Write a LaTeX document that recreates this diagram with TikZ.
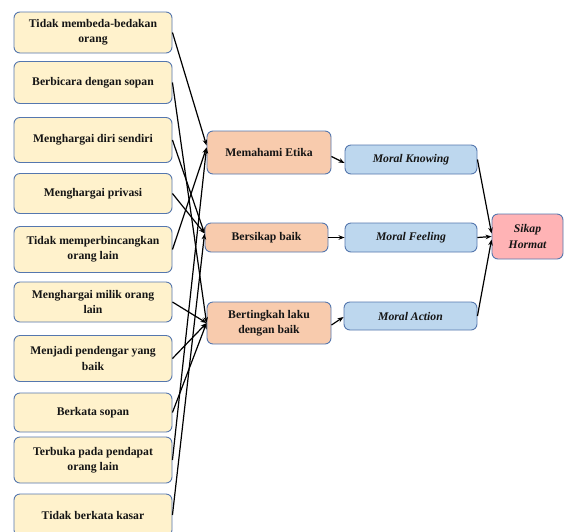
\documentclass[tikz,border=0pt]{standalone}
\usepackage{fontspec}
\setmainfont{Liberation Serif}
\usetikzlibrary{arrows.meta}
\definecolor{lfill}{HTML}{FFF2CC}
\definecolor{mfill}{HTML}{F8CBAD}
\definecolor{bfill}{HTML}{BDD7EE}
\definecolor{rfill}{HTML}{FFB3B5}
\definecolor{edge}{HTML}{5577AE}
\definecolor{ink}{HTML}{151515}
\tikzset{
  base/.style={draw=edge, line width=0.9pt, rounded corners=6pt, inner sep=0pt, align=center,
     text=ink, font=\fontsize{11.7}{15.3}\selectfont\bfseries},
  lbox/.style={base, fill=lfill, minimum width=158pt},
  mbox/.style={base, fill=mfill, minimum width=124pt},
  bbox/.style={base, fill=bfill, minimum width=132pt, minimum height=29pt, font=\fontsize{11.7}{15.3}\selectfont\bfseries\itshape},
  rbox/.style={base, fill=rfill, minimum width=71pt, minimum height=45pt, font=\fontsize{11.7}{15.3}\selectfont\bfseries\itshape},
  conn/.style={line width=1.2pt, -{Stealth[length=6pt,width=4.5pt]}}
}
\begin{document}
\begin{tikzpicture}[x=1pt,y=-1pt]
\clip (0,0) rectangle (564,531);
\fill[white] (0,0) rectangle (564,531);
% left column
\node[lbox, minimum height=41pt] (a1) at (93,32.5) {Tidak membeda-bedakan\\orang};
\node[lbox, minimum height=42pt] (a2) at (93,82.5) {Berbicara dengan sopan};
\node[lbox, minimum height=45pt] (a3) at (93,140) {Menghargai diri sendiri};
\node[lbox, minimum height=40pt] (a4) at (93,193.5) {Menghargai privasi};
\node[lbox, minimum height=46pt] (a5) at (93,249.5) {Tidak memperbincangkan\\orang lain};
\node[lbox, minimum height=40pt] (a6) at (93,302) {Menghargai milik orang\\lain};
\node[lbox, minimum height=46pt] (a7) at (93,358.5) {Menjadi pendengar yang\\baik};
\node[lbox, minimum height=39pt] (a8) at (93,412.5) {Berkata sopan};
\node[lbox, minimum height=46pt] (a9) at (93,460) {Terbuka pada pendapat\\orang lain};
\node[lbox, minimum height=42pt] (a10) at (93,515) {Tidak berkata kasar};
% middle column
\node[mbox, minimum height=43pt] (me) at (269,152.5) {Memahami Etika};
\node[mbox, minimum height=29pt, minimum width=123pt] (bb) at (266.5,237.5) {Bersikap baik};
\node[mbox, minimum height=42pt] (bl) at (269,323) {Bertingkah laku\\dengan baik};
% blue column
\node[bbox] (mk) at (411,159.5) {Moral Knowing};
\node[bbox] (mf) at (411,237.5) {Moral Feeling};
\node[bbox, minimum height=28pt, minimum width=133pt] (ma) at (410.5,316) {Moral Action};
% result
\node[rbox] (sh) at (527.5,236.5) {Sikap\\Hormat};
% connectors left -> middle
\draw[conn] (a1.east) -- ([yshift=7pt]me.west);
\draw[conn] (a5.east) -- ([yshift=5pt]me.west);
\draw[conn] (a9.east) -- ([yshift=5pt]me.west);
\draw[conn] (a3.east) -- ([yshift=4pt]bb.west);
\draw[conn] (a4.east) -- ([yshift=4pt]bb.west);
\draw[conn] (a10.east) -- ([yshift=4pt]bb.west);
\draw[conn] (a2.east) -- (bl.west);
\draw[conn] (a6.east) -- (bl.west);
\draw[conn] (a7.east) -- (bl.west);
\draw[conn] (a8.east) -- (bl.west);
% middle -> blue
\draw[conn] ([yshift=-4pt]me.east) -- ([yshift=-3.5pt]mk.west);
\draw[conn] (bb.east) -- (mf.west);
\draw[conn] ([yshift=-2pt]bl.east) -- ([yshift=-1pt]ma.west);
% blue -> result
\draw[conn] (mk.east) -- ([yshift=3pt]sh.west);
\draw[conn] (mf.east) -- (sh.west);
\draw[conn] (ma.east) -- ([yshift=-3pt]sh.west);
\end{tikzpicture}
\end{document}
